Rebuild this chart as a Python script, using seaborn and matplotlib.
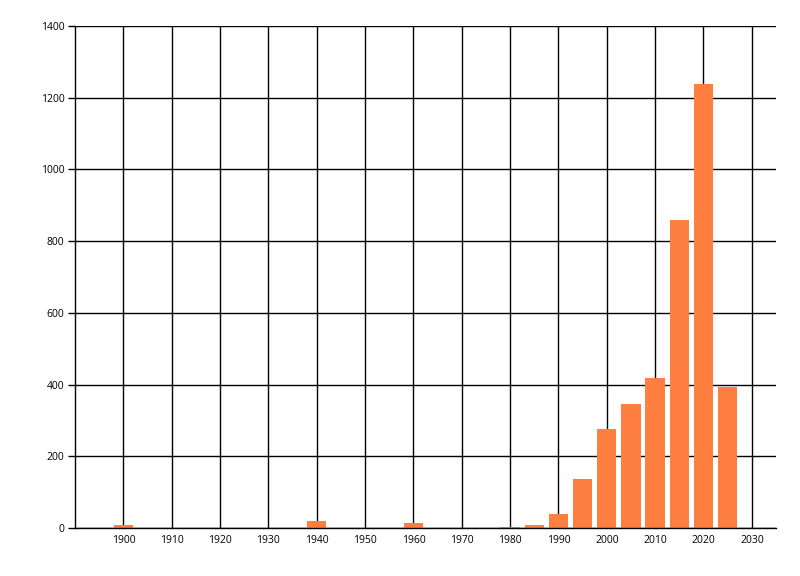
import numpy as np
import pandas as pd
import matplotlib
matplotlib.use('Agg')
import matplotlib.pyplot as plt
import seaborn as sns

# 5-year bins (bar centres) and counts
years = [1900, 1940, 1960, 1980, 1985, 1990, 1995, 2000, 2005, 2010, 2015, 2020, 2025]
counts = [9, 20, 15, 3, 9, 40, 137, 276, 346, 418, 859, 1238, 393]
x_ticks = list(range(1900, 2031, 10))
y_ticks = list(range(0, 1401, 200))

sns.set_style('white')
plt.rcParams['font.family'] = ['Open Sans', 'DejaVu Sans']

df = pd.DataFrame({'year': years, 'count': counts})

fig = plt.figure(figsize=(8, 5.76), dpi=100)
ax = fig.add_axes([75 / 800, 1 - 528 / 576, (776 - 75) / 800, (528 - 26) / 576])

sns.barplot(data=df, x='year', y='count', native_scale=True, width=0.8,
            color='#ff7f41', saturation=1, edgecolor='none', ax=ax)

ax.set_axisbelow(True)
ax.set_xlim(1890, 2035)
ax.set_ylim(0, 1400)
ax.set_xticks(x_ticks)
ax.set_xticklabels([str(t) for t in x_ticks])
ax.set_yticks(y_ticks)
ax.set_yticklabels([str(t) for t in y_ticks])
ax.grid(True, color='black', linewidth=1.0)
ax.set_xlabel('')
ax.set_ylabel('')

for side in ['top', 'right']:
    ax.spines[side].set_visible(False)
for side in ['left', 'bottom']:
    ax.spines[side].set_color('black')
    ax.spines[side].set_linewidth(1.0)

ax.tick_params(axis='x', length=0, pad=5, labelsize=7.5, colors='black')
ax.tick_params(axis='y', length=5, width=1.0, pad=2.5, labelsize=7.5,
               colors='black', left=True, direction='out')

fig.savefig('out.png', dpi=100)
